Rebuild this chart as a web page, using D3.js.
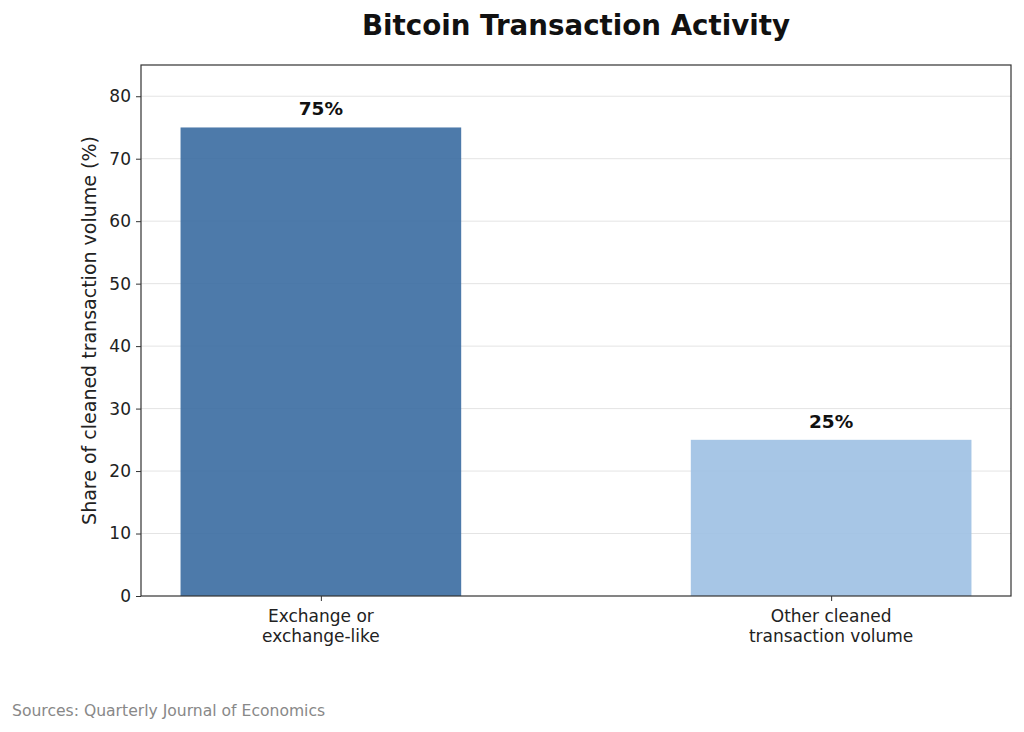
<!DOCTYPE html>
<html>
<head>
<meta charset="utf-8">
<script src="https://cdn.jsdelivr.net/npm/d3@7"></script>
<style>
  body { margin: 0; background: #fff; }
  text { font-family: "DejaVu Sans", sans-serif; }
</style>
</head>
<body>
<svg id="chart"></svg>
<script>
// chart data
const categories = ["Exchange or\nexchange-like", "Other cleaned\ntransaction volume"];
const shares = [75, 25];
const barColors = ["#3a6ba1", "#9dc0e3"];
const yTicks = [0, 10, 20, 30, 40, 50, 60, 70, 80];

const W = 1024, H = 732;
const margin = { top: 65, right: 13, bottom: 136, left: 141 };
const width = W - margin.left - margin.right;
const height = H - margin.top - margin.bottom;

const svg = d3.select("#chart").attr("width", W).attr("height", H);

// title
svg.append("text")
  .attr("x", margin.left + width / 2)
  .attr("y", 35)
  .attr("text-anchor", "middle")
  .attr("font-size", 27.7)
  .attr("font-weight", "bold")
  .attr("fill", "#111")
  .text("Bitcoin Transaction Activity");

const g = svg.append("g").attr("transform", `translate(${margin.left},${margin.top})`);

// x like matplotlib: bars at 0 and 1, width 0.55, 5% margins
const barW = 0.55;
const x = d3.scaleLinear().domain([-0.3525, 1.3525]).range([0, width]);
const y = d3.scaleLinear().domain([0, 85]).range([height, 0]);

// grid
g.append("g").selectAll("line")
  .data(yTicks.slice(1))
  .join("line")
  .attr("x1", 0).attr("x2", width)
  .attr("y1", d => y(d)).attr("y2", d => y(d))
  .attr("stroke", "#e4e4e4")
  .attr("stroke-width", 1);

// bars
g.selectAll("rect.bar")
  .data(shares)
  .join("rect")
  .attr("class", "bar")
  .attr("x", (d, i) => x(i - barW / 2))
  .attr("width", x(barW) - x(0))
  .attr("y", d => y(d))
  .attr("height", d => y(0) - y(d))
  .attr("fill", (d, i) => barColors[i])
  .attr("fill-opacity", 0.9);

// value labels
g.selectAll("text.val")
  .data(shares)
  .join("text")
  .attr("class", "val")
  .attr("x", (d, i) => x(i))
  .attr("y", d => y(d) - 12)
  .attr("text-anchor", "middle")
  .attr("font-size", 18.5)
  .attr("font-weight", "bold")
  .attr("fill", "#111")
  .text(d => d + "%");

// y axis
const yAxis = g.append("g")
  .call(d3.axisLeft(y).tickValues(yTicks).tickSize(5).tickPadding(5));
yAxis.select(".domain").remove();
yAxis.selectAll("text").attr("font-size", 17).attr("fill", "#222").style("font-family", "DejaVu Sans");
yAxis.selectAll("line").attr("stroke", "#333");

// x axis
const xAxis = g.append("g")
  .attr("transform", `translate(0,${height})`)
  .call(d3.axisBottom(x).tickValues([0, 1]).tickSize(5).tickFormat(""));
xAxis.select(".domain").remove();
xAxis.selectAll("line").attr("stroke", "#333");

g.selectAll("text.cat")
  .data(categories)
  .join("text")
  .attr("class", "cat")
  .attr("text-anchor", "middle")
  .attr("font-size", 17)
  .attr("fill", "#222")
  .each(function (d, i) {
    d3.select(this).selectAll("tspan")
      .data(d.split("\n"))
      .join("tspan")
      .attr("x", x(i))
      .attr("y", (t, j) => height + 26 + j * 20)
      .text(t => t);
  });

// frame
g.append("rect")
  .attr("width", width).attr("height", height)
  .attr("fill", "none")
  .attr("stroke", "#333")
  .attr("stroke-width", 1.2);

// y label
svg.append("text")
  .attr("transform", `translate(96,${margin.top + height / 2}) rotate(-90)`)
  .attr("text-anchor", "middle")
  .attr("font-size", 19)
  .attr("fill", "#222")
  .text("Share of cleaned transaction volume (%)");

// source
svg.append("text")
  .attr("x", 12)
  .attr("y", 716)
  .attr("font-size", 15.6)
  .attr("fill", "#888")
  .text("Sources: Quarterly Journal of Economics");
</script>
</body>
</html>
